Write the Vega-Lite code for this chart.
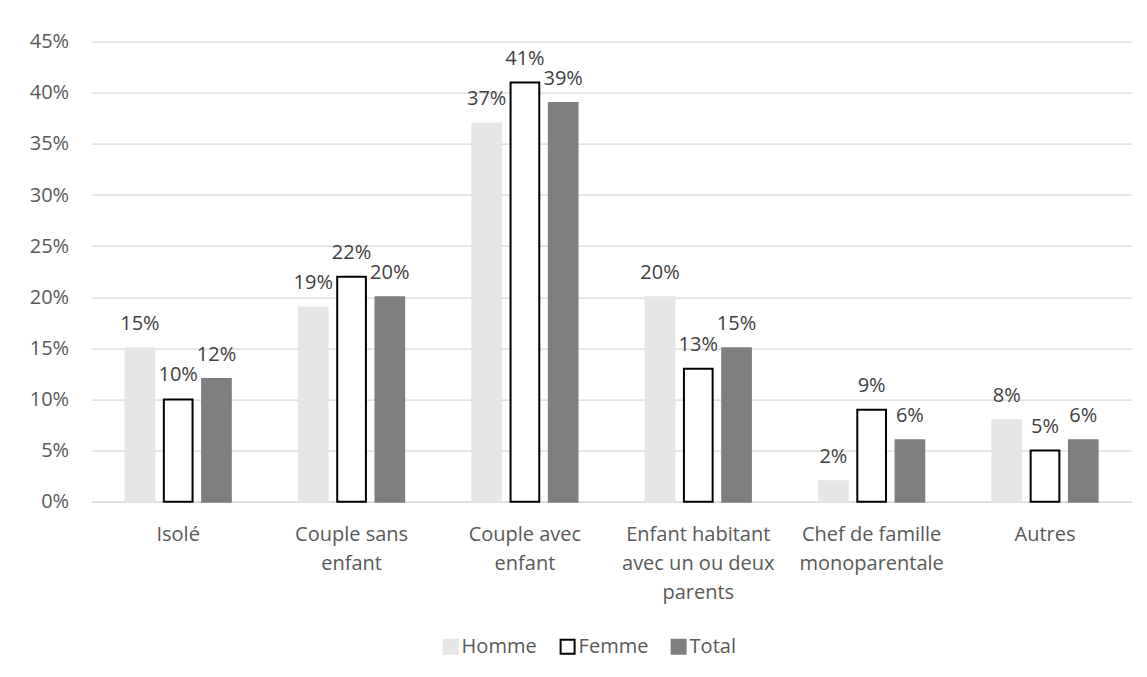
{
  "$schema": "https://vega.github.io/schema/vega-lite/v6.json",
  "autosize": "none",
  "width": 1040,
  "height": 460,
  "padding": {"left": 91.6, "top": 41.7, "right": 15.4, "bottom": 175.3},
  "background": "white",
  "data": {
    "values": [
      {"categorie": "Isolé", "sexe": "Homme", "valeur": 0.15},
      {"categorie": "Isolé", "sexe": "Femme", "valeur": 0.10},
      {"categorie": "Isolé", "sexe": "Total", "valeur": 0.12},
      {"categorie": "Couple sans enfant", "sexe": "Homme", "valeur": 0.19},
      {"categorie": "Couple sans enfant", "sexe": "Femme", "valeur": 0.22},
      {"categorie": "Couple sans enfant", "sexe": "Total", "valeur": 0.20},
      {"categorie": "Couple avec enfant", "sexe": "Homme", "valeur": 0.37},
      {"categorie": "Couple avec enfant", "sexe": "Femme", "valeur": 0.41},
      {"categorie": "Couple avec enfant", "sexe": "Total", "valeur": 0.39},
      {"categorie": "Enfant habitant avec un ou deux parents", "sexe": "Homme", "valeur": 0.20},
      {"categorie": "Enfant habitant avec un ou deux parents", "sexe": "Femme", "valeur": 0.13},
      {"categorie": "Enfant habitant avec un ou deux parents", "sexe": "Total", "valeur": 0.15},
      {"categorie": "Chef de famille monoparentale", "sexe": "Homme", "valeur": 0.02},
      {"categorie": "Chef de famille monoparentale", "sexe": "Femme", "valeur": 0.09},
      {"categorie": "Chef de famille monoparentale", "sexe": "Total", "valeur": 0.06},
      {"categorie": "Autres", "sexe": "Homme", "valeur": 0.08},
      {"categorie": "Autres", "sexe": "Femme", "valeur": 0.05},
      {"categorie": "Autres", "sexe": "Total", "valeur": 0.06}
    ]
  },
  "encoding": {
    "x": {
      "field": "categorie",
      "type": "nominal",
      "sort": ["Isolé", "Couple sans enfant", "Couple avec enfant", "Enfant habitant avec un ou deux parents", "Chef de famille monoparentale", "Autres"],
      "scale": {"paddingInner": 0.393, "paddingOuter": 0.196},
      "axis": {
        "title": null,
        "labelAngle": 0,
        "domain": true,
        "domainColor": "#d9d9d9",
        "domainWidth": 1.5,
        "ticks": false,
        "grid": false,
        "labelPadding": 23,
        "labelLineHeight": 29,
        "labelFontSize": 20,
        "labelFont": "Open Sans",
        "labelColor": "#595959",
        "labelExpr": "datum.value == 'Couple sans enfant' ? ['Couple sans','enfant'] : datum.value == 'Couple avec enfant' ? ['Couple avec','enfant'] : datum.value == 'Enfant habitant avec un ou deux parents' ? ['Enfant habitant','avec un ou deux','parents'] : datum.value == 'Chef de famille monoparentale' ? ['Chef de famille','monoparentale'] : datum.label"
      }
    },
    "xOffset": {
      "field": "sexe",
      "type": "nominal",
      "sort": ["Homme", "Femme", "Total"],
      "scale": {"paddingInner": 0.25, "paddingOuter": 0}
    },
    "y": {
      "field": "valeur",
      "type": "quantitative",
      "scale": {"domain": [0, 0.45], "nice": false},
      "axis": {
        "title": null,
        "values": [0, 0.05, 0.1, 0.15, 0.2, 0.25, 0.3, 0.35, 0.4, 0.45],
        "format": ".0%",
        "domain": false,
        "ticks": false,
        "grid": true,
        "gridColor": "#d9d9d9",
        "gridWidth": 1.3,
        "labelPadding": 23,
        "labelFontSize": 20,
        "labelFont": "Open Sans",
        "labelColor": "#595959"
      }
    }
  },
  "layer": [
    {
      "mark": {"type": "bar", "strokeWidth": 2},
      "encoding": {
        "fill": {
          "field": "sexe",
          "type": "nominal",
          "sort": ["Homme", "Femme", "Total"],
          "scale": {"domain": ["Homme", "Femme", "Total"], "range": ["#e7e6e6", "#ffffff", "#7f7f7f"]},
          "legend": {
            "title": null,
            "orient": "none",
            "legendX": 349,
            "legendY": 595,
            "direction": "horizontal",
            "symbolType": "square",
            "symbolSize": 196,
            "symbolStrokeWidth": 2,
            "labelFontSize": 20,
            "labelFont": "Open Sans",
            "labelColor": "#595959",
            "labelOffset": 1,
            "columnPadding": 19,
            "padding": 0
          }
        },
        "stroke": {
          "field": "sexe",
          "type": "nominal",
          "sort": ["Homme", "Femme", "Total"],
          "scale": {"domain": ["Homme", "Femme", "Total"], "range": ["#e7e6e6", "#000000", "#7f7f7f"]},
          "legend": {
            "title": null,
            "orient": "none",
            "legendX": 349,
            "legendY": 595,
            "direction": "horizontal",
            "symbolType": "square",
            "symbolSize": 196,
            "symbolStrokeWidth": 2,
            "labelFontSize": 20,
            "labelFont": "Open Sans",
            "labelColor": "#595959",
            "labelOffset": 1,
            "columnPadding": 19,
            "padding": 0
          }
        }
      }
    },
    {
      "mark": {"type": "text", "baseline": "middle", "dy": -24, "fontSize": 20, "font": "Open Sans", "color": "#404040"},
      "encoding": {
        "text": {"field": "valeur", "type": "quantitative", "format": ".0%"}
      }
    }
  ],
  "config": {
    "view": {"stroke": null}
  }
}
